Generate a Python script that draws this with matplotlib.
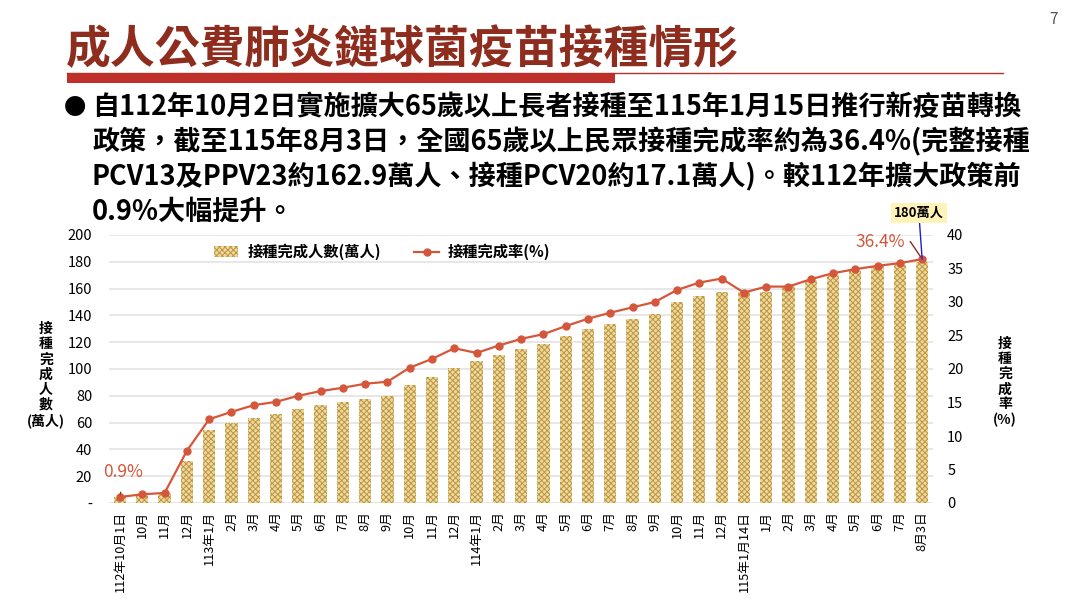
import matplotlib
matplotlib.use('Agg')
import matplotlib.pyplot as plt
import numpy as np

plt.rcParams['font.family'] = ['Noto Sans CJK TC', 'DejaVu Sans']
plt.rcParams['hatch.linewidth'] = 0.7

# data
categories = ['112年10月1日', '10月', '11月', '12月',
              '113年1月', '2月', '3月', '4月', '5月', '6月', '7月', '8月', '9月', '10月', '11月', '12月',
              '114年1月', '2月', '3月', '4月', '5月', '6月', '7月', '8月', '9月', '10月', '11月', '12月',
              '115年1月14日', '1月', '2月', '3月', '4月', '5月', '6月', '7月', '8月3日']
people = [4.5, 6.6, 7.6, 31.0, 54.5, 59.5, 63.2, 66.2, 69.9, 72.9, 75.1, 77.6, 79.6, 88.2, 94.2,
          101.1, 105.6, 110.5, 115.0, 118.7, 124.4, 129.9, 133.6, 137.5, 141.0, 149.7, 154.6,
          157.4, 157.5, 157.7, 161.6, 166.5, 170.3, 173.5, 177.2, 177.7, 180.0]
rate = [0.9, 1.3, 1.5, 7.8, 12.5, 13.6, 14.6, 15.1, 16.0, 16.7, 17.2, 17.8, 18.1, 20.2, 21.5,
        23.1, 22.4, 23.5, 24.5, 25.2, 26.4, 27.5, 28.4, 29.2, 30.0, 31.8, 32.9,
        33.5, 31.4, 32.3, 32.3, 33.4, 34.3, 34.9, 35.4, 35.8, 36.4]
left_ticks = [0, 20, 40, 60, 80, 100, 120, 140, 160, 180, 200]
left_ticklabels = ['-', '20', '40', '60', '80', '100', '120', '140', '160', '180', '200']
right_ticks = [0, 5, 10, 15, 20, 25, 30, 35, 40]

W, H = 1067, 600
fig = plt.figure(figsize=(W / 100, H / 100), dpi=100)


def fx(px):
    return px / W


def fy(py):
    return 1 - py / H


line_color = '#D5573B'

# header
fig.text(fx(1053), fy(20), '7', fontsize=11, color='#555555', ha='center', va='center')
fig.text(fx(66), fy(50), '成人公費肺炎鏈球菌疫苗接種情形', fontsize=32.3, fontweight='bold',
         color='#8E2C1E', ha='left', va='center')
fig.add_artist(plt.Line2D([fx(67), fx(1003)], [fy(73), fy(73)], color='#B5332A', lw=1))
fig.add_artist(plt.Rectangle((fx(67), fy(83)), fx(615) - fx(67), fy(74) - fy(83),
                             color='#C0302A', lw=0))

fig.text(fx(75), fy(107), '●', fontsize=16, ha='center', va='center', color='black')
body = ['自112年10月2日實施擴大65歲以上長者接種至115年1月15日推行新疫苗轉換',
        '政策，截至115年8月3日，全國65歲以上民眾接種完成率約為36.4%(完整接種',
        'PCV13及PPV23約162.9萬人、接種PCV20約17.1萬人)。較112年擴大政策前',
        '0.9%大幅提升。']
for i, line in enumerate(body):
    fig.text(fx(92), fy(107 + i * 35), line, fontsize=19.5, fontweight='bold',
             color='black', ha='left', va='center')

# chart
ax = fig.add_axes([fx(108.9), fy(503), fx(933.3) - fx(108.9), fy(235) - fy(503)])
x = np.arange(len(categories))
bars = ax.bar(x, people, width=0.55, facecolor='#EBDAA4', edgecolor='#C0953C',
              hatch='xxxxxx', linewidth=0, label='接種完成人數(萬人)')
ax.set_xlim(-0.5, len(categories) - 0.5)
ax.set_ylim(0, 200)
ax.set_yticks(left_ticks)
ax.set_yticklabels(left_ticklabels, fontsize=10.5)
ax.set_xticks(x)
ax.set_xticklabels(categories, rotation=90, fontsize=9.2)
ax.tick_params(axis='y', length=0, pad=12)
ax.tick_params(axis='x', length=0, pad=6)
ax.grid(axis='y', color='#E3E3E3', lw=1.2)
ax.set_axisbelow(True)
for s in ax.spines.values():
    s.set_visible(False)

ax2 = ax.twinx()
ln, = ax2.plot(x, rate, color=line_color, lw=1.6, marker='o', ms=5,
               label='接種完成率(%)')
ax2.set_ylim(0, 40)
ax2.set_yticks(right_ticks)
ax2.set_yticklabels([str(t) for t in right_ticks], fontsize=10.5)
ax2.tick_params(length=0, pad=10)
for s in ax2.spines.values():
    s.set_visible(False)

fig.legend([bars, ln], ['接種完成人數(萬人)', '接種完成率(%)'], loc='center',
           bbox_to_anchor=(fx(382), fy(252)), ncol=2, frameon=False,
           handlelength=1.6, columnspacing=2.2, handletextpad=0.6,
           prop={'weight': 'bold', 'size': 11})

# axis titles (stacked characters)
fig.text(fx(46), fy(375), '接\n種\n完\n成\n人\n數\n(萬人)', fontsize=10, fontweight='bold',
         ha='center', va='center', linespacing=1.1)
fig.text(fx(1005), fy(382), '接\n種\n完\n成\n率\n(%)', fontsize=10, fontweight='bold',
         ha='center', va='center', linespacing=1.1)

# annotations
ax2.annotate('0.9%', xy=(0, rate[0]), xytext=(0.15, 4.6), fontsize=12.5, color=line_color,
             ha='center', va='center',
             arrowprops=dict(arrowstyle='-', color='#8B2E1F', lw=1, shrinkA=6, shrinkB=2))
ax2.annotate('36.4%', xy=(36, rate[-1]), xytext=(34.1, 39.0), fontsize=12.5, color=line_color,
             ha='center', va='center', annotation_clip=False,
             arrowprops=dict(arrowstyle='-', color='#8B2E1F', lw=1, shrinkA=2, shrinkB=2,
                             relpos=(1, 0.5),
                             connectionstyle='angle,angleA=0,angleB=-56,rad=0'))
ax2.annotate('180萬人', xy=(36, rate[-1]), xytext=(35.85, 43.3), fontsize=9.5,
             fontweight='bold', color='black', ha='center', va='center',
             annotation_clip=False,
             bbox=dict(boxstyle='square,pad=0.25', fc='#FFF3B8', ec='none'),
             arrowprops=dict(arrowstyle='-', color='#1F1FCC', lw=1, shrinkA=0, shrinkB=0))

fig.savefig('out.png', dpi=100, facecolor='white')
